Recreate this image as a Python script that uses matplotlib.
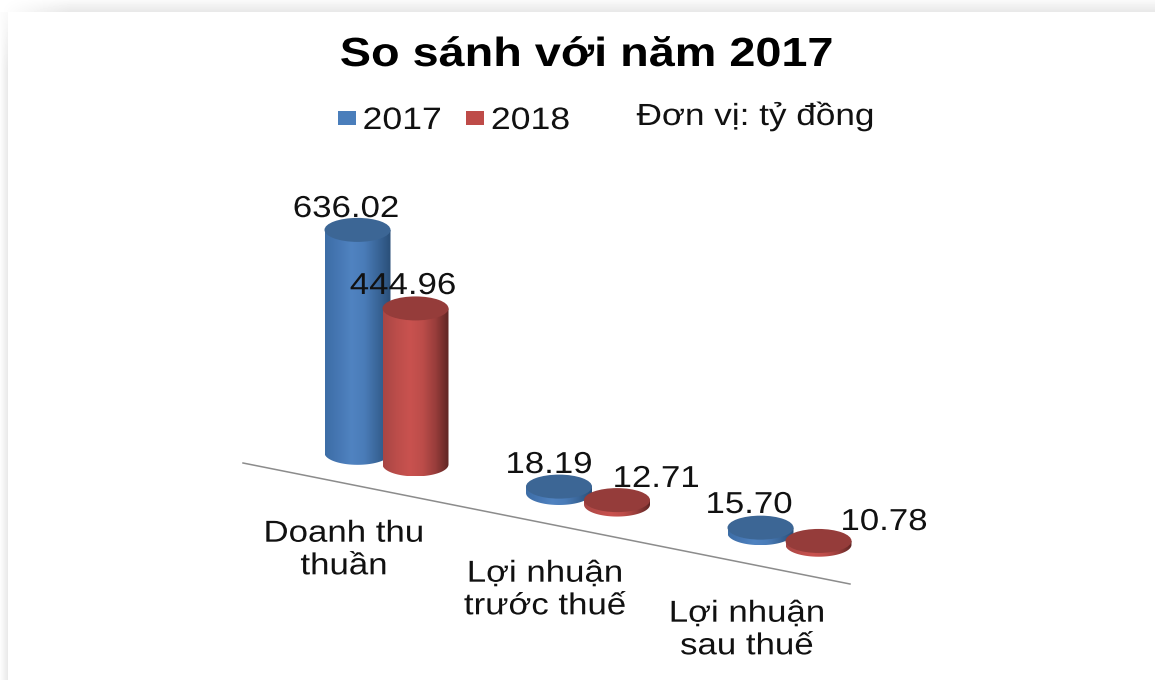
import numpy as np
import matplotlib
matplotlib.use("Agg")
import matplotlib.pyplot as plt
import matplotlib.patheffects as pe
from matplotlib.colors import LinearSegmentedColormap
from matplotlib.patches import Ellipse, Patch, PathPatch
from matplotlib.path import Path
from matplotlib.transforms import Affine2D

plt.rcParams['font.family'] = ['Liberation Sans', 'DejaVu Sans']

# du lieu
categories = ["Doanh thu\nthuần", "Lợi nhuận\ntrước thuế", "Lợi nhuận\nsau thuế"]
series_names = ["2017", "2018"]
values_2017 = [636.02, 18.19, 15.70]
values_2018 = [444.96, 12.71, 10.78]
value_labels_2017 = ["636.02", "18.19", "15.70"]
value_labels_2018 = ["444.96", "12.71", "10.78"]

W, H = 1155, 680
fig = plt.figure(figsize=(W / 100, H / 100), dpi=100, facecolor="white")
ax = fig.add_axes([0, 0, 1, 1])


# chu trong hinh goc bi keo gian theo chieu ngang
class StretchX(pe.AbstractPathEffect):
    def __init__(self, sx):
        super().__init__()
        self.sx = sx

    def draw_path(self, renderer, gc, tpath, affine, rgbFace=None):
        box = tpath.get_extents(affine)
        mid = (box.x0 + box.x1) / 2
        wide = affine + Affine2D().translate(-mid, 0).scale(self.sx, 1).translate(mid, 0)
        renderer.draw_path(gc, tpath, wide, rgbFace)


wide_text = [StretchX(1.15)]

# nen: bong mo o canh tren va canh trai
xx, yy = np.meshgrid(np.arange(W), np.arange(H))
shade = np.ones((H, W))
top = np.clip((yy - 0) / 12, 0, 1) * (yy < 12)
left = np.clip(xx / 8, 0, 1) * (xx < 8)
fade_x = np.clip(xx / 70, 0, 1)
fade_y = np.clip(yy / 70, 0, 1)
shade = np.where(yy < 12, 1 - 0.075 * top * fade_x - 0.02 * fade_x, shade)
shade = np.where((xx < 8) & (yy >= 12), 1 - 0.085 * left * fade_y - 0.01, shade)
ax.imshow(shade, cmap="gray", vmin=0, vmax=1, extent=(0, W, H, 0), zorder=0, aspect="auto")

# truc nghieng
line_x = (243, 850)
line_y = (463, 584)
ax.plot(line_x, line_y, color="#8c8c8c", lw=1.1, zorder=1)


def axis_y(x):
    return line_y[0] + (x - line_x[0]) * (line_y[1] - line_y[0]) / (line_x[1] - line_x[0])


k = 0.3505          # pixel tren 1 ty dong
rx, ry = 33, 12
lift = 33           # day cot cach truc

blue_cmap = LinearSegmentedColormap.from_list(
    "b", ["#3d6ea6", "#4677b3", "#5083c1", "#4a7cb8", "#3a6699", "#2a4f78"])
red_cmap = LinearSegmentedColormap.from_list(
    "r", ["#a84644", "#bb4d4a", "#c9524f", "#bd4d4a", "#983d3b", "#5f2624"])


def cylinder(cx, value, cmap, top_color, z):
    base = axis_y(cx) - lift
    tip = base - value * k
    t = np.linspace(np.pi, 0, 60)
    # than cot: canh trai xuong day, vong qua day, canh phai len
    pts = [(cx - rx, tip)]
    pts += [(cx + rx * np.cos(a), base + ry * np.sin(a)) for a in t]
    pts += [(cx + rx, tip), (cx - rx, tip)]
    clip = PathPatch(Path(pts), facecolor="none", edgecolor="none", transform=ax.transData)
    ax.add_patch(clip)
    grad = np.linspace(0, 1, 128).reshape(1, -1)
    im = ax.imshow(grad, cmap=cmap, extent=(cx - rx, cx + rx, base + ry, tip),
                   aspect="auto", zorder=z)
    im.set_clip_path(clip)
    ax.add_patch(Ellipse((cx, tip), 2 * rx, 2 * ry, facecolor=top_color,
                         edgecolor="none", zorder=z + 0.1))


centers = [386.5, 588, 789.5]
offset = 29
for i in range(len(categories)):
    cylinder(centers[i] - offset, values_2017[i], blue_cmap, "#3c6695", 2)
    cylinder(centers[i] + offset, values_2018[i], red_cmap, "#953c3a", 3)

# nhan gia tri
pos_2017 = [(346, 209), (549, 465), (749, 505)]
pos_2018 = [(403, 286), (656, 479), (884, 522)]
for (x, y), s in zip(pos_2017 + pos_2018, value_labels_2017 + value_labels_2018):
    ax.text(x, y, s, fontsize=21.8, color="#111111", ha="center", va="center",
            zorder=5, path_effects=wide_text)

# nhan danh muc
cat_pos = [(344, 550), (545, 590), (747, 630)]
for (x, y), s in zip(cat_pos, categories):
    ax.text(x, y, s, fontsize=21.8, color="#111111", ha="center", va="center",
            linespacing=1.21, zorder=5, path_effects=wide_text)

ax.text(587, 55, "So sánh với năm 2017", fontsize=29.3, fontweight="bold",
        color="#000000", ha="center", va="center", zorder=5, path_effects=wide_text)
ax.text(755, 116, "Đơn vị: tỷ đồng", fontsize=22, color="#111111",
        ha="center", va="center", zorder=5, path_effects=wide_text)

handles = [Patch(facecolor="#4a7ebb", label=series_names[0]),
           Patch(facecolor="#be4b48", label=series_names[1])]
leg = ax.legend(handles=handles, ncol=2, frameon=False, fontsize=22.3,
                loc="center left", bbox_to_anchor=(338 / W, 1 - 121 / H),
                handlelength=0.58, handleheight=0.33, handletextpad=0.38,
                columnspacing=0.96, borderpad=0, borderaxespad=0)
for txt in leg.get_texts():
    txt.set_color("#111111")
    txt.set_path_effects(wide_text)

ax.set_xlim(0, W)
ax.set_ylim(H, 0)
ax.axis("off")
fig.savefig("out.png", dpi=100)
